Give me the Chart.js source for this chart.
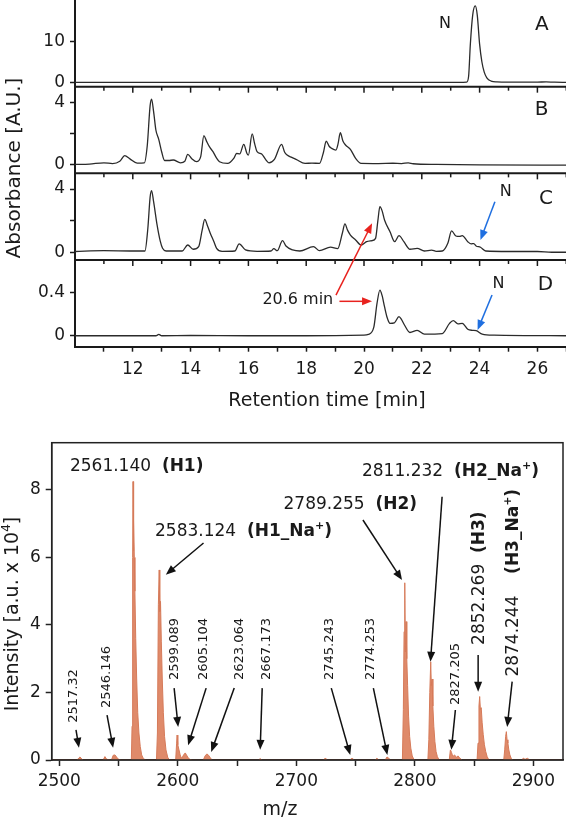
<!DOCTYPE html>
<html>
<head>
<meta charset="utf-8">
<script src="https://cdn.jsdelivr.net/npm/chart.js@4.4.0/dist/chart.umd.min.js"></script>
<style>
  html, body { margin: 0; padding: 0; background: #fff; overflow: hidden; }
  body { width: 566px; height: 820px; position: relative; }
  #hplc { position: absolute; left: 0; top: -20px; }
  #ms { position: absolute; left: 0; top: 410px; }
</style>
</head>
<body>
<canvas id="hplc" width="590" height="440"></canvas>
<canvas id="ms" width="566" height="410"></canvas>
<script>
// HPLC traces: retention time [min] and absorbance [A.U.]
const timeA = [10, 14, 18, 22, 23.3, 23.55, 23.62, 23.68, 23.76, 23.85, 23.92, 24.0, 24.08, 24.16, 24.25, 24.4, 24.6, 25.0, 26.0, 26.3, 26.6, 27];
const absA  = [0, 0, 0, 0, 0, 0.05, 1.5, 9.4, 16.5, 18.8, 16.5, 9.4, 5.0, 2.5, 1.1, 0.3, 0.1, 0.05, 0.05, 0.1, 0.02, 0];

const timeB = [10.0, 10.5, 11.0, 11.3, 11.55, 11.72, 11.9, 12.15, 12.4, 12.5, 12.6, 12.65, 12.72, 12.8, 12.9, 13.0, 13.1, 13.25, 13.4, 13.65,
               13.8, 13.9, 14.05, 14.2, 14.35, 14.46, 14.55, 14.65, 14.78, 14.9, 15.0, 15.28, 15.5, 15.59, 15.7, 15.84, 15.95, 16.0, 16.13, 16.22,
               16.3, 16.46, 16.6, 16.71, 16.9, 17.15, 17.25, 17.34, 17.5, 17.65, 17.96, 18.2, 18.46, 18.6, 18.69, 18.8, 18.88, 19.03, 19.1, 19.18,
               19.27, 19.36, 19.53, 19.71, 19.9, 20.5, 21.0, 21.3, 21.53, 21.7, 22.5, 24.0, 27.0];
const absB  = [0.0, 0.02, 0.1, 0.05, 0.2, 0.56, 0.35, 0.08, 0.1, 1.2, 3.8, 4.2, 3.4, 2.2, 1.6, 0.8, 0.25, 0.25, 0.28, 0.1,
               0.2, 0.65, 0.35, 0.17, 0.5, 1.85, 1.5, 1.14, 0.8, 0.4, 0.17, 0.06, 0.4, 0.7, 0.67, 1.29, 0.7, 0.6, 1.96, 1.3,
               0.82, 0.67, 0.3, 0.1, 0.32, 1.29, 0.8, 0.6, 0.45, 0.32, 0.06, 0.08, 0.06, 0.8, 1.5, 1.15, 1.03, 0.92, 1.3, 2.04,
               1.5, 1.25, 0.97, 0.39, 0.06, 0.05, 0.07, 0.05, 0.1, 0.04, 0.0, -0.03, -0.05];

const timeC = [10.0, 11.0, 12.0, 12.42, 12.52, 12.6, 12.65, 12.72, 12.84, 12.95, 13.03, 13.15, 13.71, 13.9, 14.09, 14.28, 14.4, 14.49, 14.58, 14.68,
               14.8, 14.9, 15.09, 15.53, 15.68, 15.9, 16.3, 16.78, 16.88, 17.0, 17.18, 17.3, 17.53, 17.78, 18.25, 18.46, 18.84, 19.09, 19.25, 19.34,
               19.43, 19.53, 19.71, 19.9, 20.09, 20.28, 20.4, 20.48, 20.55, 20.63, 20.71, 20.9, 21.06, 21.21, 21.38, 21.59, 21.84, 22.09, 22.34, 22.5,
               22.71, 22.9, 23.03, 23.18, 23.3, 23.4, 23.59, 23.71, 23.8, 23.88, 24.03, 24.21, 25.0, 26.0, 26.5, 27.0];
const absC  = [0.05, 0.1, 0.08, 0.08, 1.5, 3.5, 3.9, 3.2, 1.73, 0.7, 0.25, 0.08, 0.08, 0.46, 0.19, 0.36, 1.4, 2.08, 1.7, 1.2,
               0.7, 0.25, 0.06, 0.08, 0.53, 0.15, 0.06, 0.08, 0.23, 0.1, 0.74, 0.4, 0.15, 0.08, 0.36, 0.1, 0.32, 0.23, 1.2, 1.79,
               1.4, 1.09, 0.78, 0.46, 0.67, 0.74, 0.88, 2.0, 2.88, 2.6, 2.04, 1.3, 0.67, 1.05, 0.67, 0.19, 0.25, 0.08, 0.14, 0.06,
               0.08, 0.57, 1.35, 1.03, 1.0, 1.05, 0.67, 0.53, 0.55, 0.4, 0.32, 0.08, 0.05, 0.05, 0.0, 0.0];

const timeD = [10, 12.8, 12.9, 13.0, 14.0, 16.0, 18.0, 20.0, 20.15, 20.34, 20.45, 20.55, 20.63, 20.71, 20.8, 20.9, 21.05, 21.21, 21.3, 21.4,
               21.59, 21.84, 22.09, 22.71, 22.96, 23.09, 23.25, 23.4, 23.59, 23.75, 23.88, 24.09, 24.5, 27];
const absD  = [0, 0, 0.012, 0, 0.002, 0, 0, 0.005, 0.012, 0.08, 0.3, 0.425, 0.37, 0.27, 0.17, 0.115, 0.12, 0.177, 0.15, 0.1,
               0.03, 0.05, 0.015, 0.02, 0.115, 0.14, 0.11, 0.115, 0.06, 0.05, 0.047, 0.015, 0.005, 0.0];

const timeTicks  = [11, 12, 13, 14, 15, 16, 17, 18, 19, 20, 21, 22, 23, 24, 25, 26, 27];
const timeLabels = [12, 14, 16, 18, 20, 22, 24, 26];
const ticksA = [0, 10],  labelsA = [0, 10];
const ticksB = [0, 2, 4], labelsB = [0, 4];
const ticksC = [0, 2, 4], labelsC = [0, 4];
const ticksD = [0, 0.2, 0.4, 0.6], labelsD = [0, 0.4];

// MALDI spectrum: m/z and intensity [a.u. x 10^4]
const msMz = [2493.6, 2515, 2516.5, 2517.5, 2518.5, 2520, 2537, 2538.5, 2540, 2544, 2545.5, 2547, 2548.5, 2550, 2552,
              2560.8, 2561.4, 2561.9, 2562.2, 2562.5, 2562.9, 2563.3, 2563.8, 2564.5, 2565.3, 2566.2, 2567.2, 2568.3, 2569.5, 2571, 2573,
              2582, 2582.8, 2583.6, 2584.3, 2584.8, 2585.4, 2586.1, 2586.9, 2587.8, 2588.8, 2590, 2591.5, 2593,
              2598.2, 2599.0, 2599.4, 2600, 2601, 2602, 2603, 2604, 2605.5, 2606.3, 2607.3, 2608.5, 2610, 2612,
              2621.5, 2623, 2624.5, 2626, 2627.5, 2629, 2668, 2669.5, 2671, 2723, 2724.5, 2726, 2745, 2747, 2749,
              2766.5, 2768, 2769.5, 2775, 2776.5, 2778, 2779.5,
              2789.5, 2790.3, 2790.9, 2791.5, 2792.0, 2792.6, 2793.2, 2793.9, 2794.7, 2795.6, 2796.6, 2797.8, 2799, 2800.5,
              2811, 2811.8, 2812.6, 2813.4, 2813.9, 2814.5, 2815.2, 2816, 2816.9, 2817.9, 2819, 2820.5,
              2829, 2830, 2831, 2832, 2833.5, 2835, 2836.5, 2838, 2840,
              2852.5, 2853.3, 2854.1, 2854.7, 2855.3, 2856, 2856.8, 2857.7, 2858.7, 2859.8, 2861, 2862.5,
              2875, 2875.8, 2876.6, 2877.2, 2877.8, 2878.5, 2879.3, 2880.2, 2881.3, 2882.5,
              2890, 2891.5, 2893, 2895, 2897, 2925];
const msInt = [0, 0, 0.06, 0.09, 0.05, 0, 0, 0.1, 0.02, 0, 0.14, 0.15, 0.08, 0.02, 0,
               0, 1.0, 6.0, 8.25, 6.2, 7.1, 6.0, 5.0, 3.6, 2.4, 1.4, 0.8, 0.4, 0.15, 0.04, 0,
               0, 0.8, 4.6, 5.63, 4.4, 4.7, 3.5, 2.4, 1.4, 0.7, 0.3, 0.08, 0,
               0, 0.5, 0.74, 0.45, 0.3, 0.15, 0.05, 0.1, 0.18, 0.21, 0.15, 0.08, 0.02, 0,
               0, 0.12, 0.18, 0.14, 0.06, 0, 0, 0.04, 0, 0, 0.06, 0, 0, 0.05, 0,
               0, 0.05, 0, 0, 0.09, 0.05, 0,
               0, 1.5, 3.8, 5.25, 3.2, 4.1, 3.0, 2.2, 1.3, 0.7, 0.35, 0.12, 0.03, 0,
               0, 0.6, 2.0, 2.91, 2.2, 2.4, 1.6, 1.0, 0.55, 0.25, 0.1, 0,
               0, 0.3, 0.22, 0.1, 0.15, 0.08, 0.12, 0.05, 0,
               0, 0.5, 1.6, 1.88, 1.5, 1.55, 1.1, 0.75, 0.45, 0.25, 0.1, 0,
               0, 0.3, 0.7, 0.84, 0.6, 0.5, 0.3, 0.15, 0.05, 0,
               0, 0.05, 0.02, 0.05, 0, 0];

const msXTicks  = [2500, 2550, 2600, 2650, 2700, 2750, 2800, 2850, 2900];
const msXLabels = [2500, 2600, 2700, 2800, 2900];
const msYTicks  = [0, 2, 4, 6, 8];

const FONT = '"DejaVu Sans", sans-serif';
const INK = '#1a1a1a';
Chart.defaults.font.family = FONT;
Chart.defaults.color = INK;

const toXY = (xs, ys) => xs.map((x, i) => ({ x: x, y: ys[i] }));

function drawRich(ctx, parts, x, y, size, align, rotate) {
  // style: 0 normal, 1 bold, 2 bold superscript, 3 normal superscript
  const fontFor = st => ((st === 1 || st === 2) ? 'bold ' : '') + (st >= 2 ? Math.round(size * 0.65) : size) + 'px ' + FONT;
  ctx.save();
  ctx.translate(x, y);
  if (rotate) ctx.rotate(-Math.PI / 2);
  let total = 0;
  parts.forEach(([t, st]) => { ctx.font = fontFor(st); total += ctx.measureText(t).width; });
  let cx = align === 'center' ? -total / 2 : 0;
  ctx.textBaseline = 'middle';
  ctx.textAlign = 'left';
  ctx.fillStyle = INK;
  parts.forEach(([t, st]) => {
    ctx.font = fontFor(st);
    ctx.fillText(t, cx, st >= 2 ? -size * 0.33 : 0);
    cx += ctx.measureText(t).width;
  });
  ctx.restore();
}

function arrow(ctx, x1, y1, x2, y2, color, lw) {
  const a = Math.atan2(y2 - y1, x2 - x1);
  const hl = 10, hw = 4;
  ctx.save();
  ctx.strokeStyle = color;
  ctx.fillStyle = color;
  ctx.lineWidth = lw;
  ctx.beginPath();
  ctx.moveTo(x1, y1);
  ctx.lineTo(x2 - hl * 0.8 * Math.cos(a), y2 - hl * 0.8 * Math.sin(a));
  ctx.stroke();
  ctx.beginPath();
  ctx.moveTo(x2, y2);
  ctx.lineTo(x2 - hl * Math.cos(a) + hw * Math.sin(a), y2 - hl * Math.sin(a) - hw * Math.cos(a));
  ctx.lineTo(x2 - hl * Math.cos(a) - hw * Math.sin(a), y2 - hl * Math.sin(a) + hw * Math.cos(a));
  ctx.closePath();
  ctx.fill();
  ctx.restore();
}

// ---------- HPLC panels ----------
const hplcNotes = [
  { axis: 'yA', t: 22.8,  v: 14.5,  text: 'N', size: 16 },
  { axis: 'yA', t: 26.15, v: 14.1,  text: 'A', size: 20 },
  { axis: 'yB', t: 26.15, v: 3.5,   text: 'B', size: 20 },
  { axis: 'yC', t: 26.3,  v: 3.41,  text: 'C', size: 20 },
  { axis: 'yC', t: 24.9,  v: 3.83,  text: 'N', size: 16 },
  { axis: 'yD', t: 26.28, v: 0.47,  text: 'D', size: 20 },
  { axis: 'yD', t: 24.65, v: 0.487, text: 'N', size: 16 },
  { axis: 'yD', t: 17.71, v: 0.33,  text: '20.6 min', size: 16 }
];
const hplcArrows = [
  { from: ['yC', 24.53, 3.2],   to: ['yC', 24.03, 0.78],  color: '#1f6fe0' },
  { from: ['yD', 24.43, 0.378], to: ['yD', 23.93, 0.053], color: '#1f6fe0' },
  { from: ['yD', 19.03, 0.378], to: ['yC', 20.28, 1.83],  color: '#e8221e' },
  { from: ['yD', 19.15, 0.32],  to: ['yD', 20.28, 0.32],  color: '#e8221e' }
];

const hplcDecor = {
  id: 'hplcDecor',
  afterDraw(chart) {
    const { ctx, chartArea: ca, scales } = chart;
    const xs = scales.x;
    ctx.save();
    ctx.strokeStyle = INK;
    ctx.lineWidth = 2;
    ['yA', 'yB', 'yC'].forEach(id => {
      const b = scales[id].bottom;
      ctx.beginPath(); ctx.moveTo(ca.left, b); ctx.lineTo(ca.right, b); ctx.stroke();
    });
    ctx.lineWidth = 1.5;
    ['yB', 'yC', 'yD'].forEach(id => {
      const top = scales[id].top;
      timeTicks.forEach(t => {
        const px = xs.getPixelForValue(t);
        const len = timeLabels.includes(t) ? 6 : 4;
        ctx.beginPath(); ctx.moveTo(px, top); ctx.lineTo(px, top + len); ctx.stroke();
      });
    });
    ctx.restore();

    hplcNotes.forEach(n => {
      drawRich(ctx, [[n.text, 0]], xs.getPixelForValue(n.t), scales[n.axis].getPixelForValue(n.v), n.size, 'center', false);
    });
    hplcArrows.forEach(a => {
      arrow(ctx,
        xs.getPixelForValue(a.from[1]), scales[a.from[0]].getPixelForValue(a.from[2]),
        xs.getPixelForValue(a.to[1]), scales[a.to[0]].getPixelForValue(a.to[2]),
        a.color, 1.5);
    });

    drawRich(ctx, [['Absorbance [A.U.]', 0]], 15, ca.top + 168, 20, 'center', true);
    drawRich(ctx, [['Retention time [min]', 0]], 327, ca.bottom + 54, 19, 'center', false);
  }
};

function panelAxis(min, max, ticks, labels) {
  return {
    type: 'linear', position: 'left', stack: 'hplc', stackWeight: 1,
    min: min, max: max,
    afterBuildTicks: s => { s.ticks = ticks.map(v => ({ value: v })); },
    afterFit: s => { s.width = 75; },
    ticks: { font: { size: 17 }, padding: 5, color: INK,
             callback: v => labels.includes(v) ? String(v) : '' },
    grid: { drawOnChartArea: false, tickLength: 5, tickWidth: 1.5, tickColor: INK },
    border: { color: INK, width: 2 }
  };
}

const trace = (xs, ys, axis) => ({
  data: toXY(xs, ys), yAxisID: axis, borderColor: '#2b2b2b', borderWidth: 1.3,
  pointRadius: 0, fill: false, cubicInterpolationMode: 'monotone'
});

new Chart(document.getElementById('hplc'), {
  type: 'line',
  data: {
    datasets: [
      trace(timeA, absA, 'yA'),
      trace(timeB, absB, 'yB'),
      trace(timeC, absC, 'yC'),
      trace(timeD, absD, 'yD')
    ]
  },
  options: {
    responsive: false,
    animation: false,
    layout: { padding: { top: 20, right: 23.7, left: 0, bottom: 0 } },
    plugins: { legend: { display: false }, tooltip: { enabled: false } },
    scales: {
      x: {
        type: 'linear', position: 'bottom', min: 10, max: 27,
        afterBuildTicks: s => { s.ticks = timeTicks.map(v => ({ value: v })); },
        afterFit: s => { s.height = 73.3; },
        ticks: { font: { size: 17 }, padding: 8, autoSkip: false, maxRotation: 0, color: INK,
                 callback: v => timeLabels.includes(v) ? String(v) : '' },
        grid: { drawOnChartArea: false, tickLength: 5, tickWidth: 1.5, tickColor: INK },
        border: { color: INK, width: 2 }
      },
      yD: panelAxis(-0.102, 0.704, ticksD, labelsD),
      yC: panelAxis(-0.49, 4.99, ticksC, labelsC),
      yB: panelAxis(-0.58, 5.01, ticksB, labelsB),
      yA: panelAxis(-1.08, 20.27, ticksA, labelsA)
    }
  },
  plugins: [hplcDecor]
});

// ---------- Mass spectrum ----------
const msBigLabels = [
  { parts: [['2561.140  ', 0], ['(H1)', 1]], mz: 2509, inten: 8.69, rot: false },
  { parts: [['2583.124  ', 0], ['(H1_Na', 1], ['+', 2], [')', 1]], mz: 2580.8, inten: 6.76, rot: false },
  { parts: [['2789.255  ', 0], ['(H2)', 1]], mz: 2689.2, inten: 7.56, rot: false },
  { parts: [['2811.232  ', 0], ['(H2_Na', 1], ['+', 2], [')', 1]], mz: 2755.4, inten: 8.54, rot: false },
  { parts: [['2852.269  ', 0], ['(H3)', 1]], mz: 2855, inten: 3.41, rot: true },
  { parts: [['2874.244    ', 0], ['(H3_Na', 1], ['+', 2], [')', 1]], mz: 2883.2, inten: 2.47, rot: true }
];
const msBigArrows = [
  [2621.7, 6.43, 2589.9, 5.49],
  [2756.2, 7.11, 2789.2, 5.33],
  [2823.0, 7.8, 2813.2, 2.91],
  [2853.4, 3.11, 2853.4, 2.02],
  [2882.1, 2.32, 2877.9, 0.98]
];
const msSmallLabels = [
  { text: '2517.32',  mz: 2512.4, inten: 1.10, arrow: [2514.1, 0.89, 2516.6, 0.36] },
  { text: '2546.146', mz: 2540.3, inten: 1.54, arrow: [2540.3, 1.33, 2545.4, 0.36] },
  { text: '2599.089', mz: 2597.7, inten: 2.37, arrow: [2596.9, 2.13, 2600.3, 0.98] },
  { text: '2605.104', mz: 2622.2, inten: 2.37, arrow: [2623.9, 2.13, 2608.7, 0.44] },
  { text: '2623.064', mz: 2651.8, inten: 2.37, arrow: [2647.6, 2.13, 2628.2, 0.24] },
  { text: '2667.173', mz: 2674.6, inten: 2.37, arrow: [2671.2, 2.13, 2669.5, 0.30] },
  { text: '2745.243', mz: 2727.8, inten: 2.37, arrow: [2729.5, 2.13, 2745.5, 0.15] },
  { text: '2774.253', mz: 2762.4, inten: 2.37, arrow: [2765.0, 2.13, 2776.8, 0.15] },
  { text: '2827.205', mz: 2834.2, inten: 1.63, arrow: [2834.2, 1.48, 2830.8, 0.30] }
];

const msDecor = {
  id: 'msDecor',
  afterDraw(chart) {
    const { ctx, chartArea: ca, scales: { x, y } } = chart;
    ctx.save();
    ctx.strokeStyle = '#222';
    ctx.lineWidth = 1.5;
    ctx.strokeRect(ca.left, ca.top, ca.right - ca.left, ca.bottom - ca.top);
    ctx.restore();

    msBigLabels.forEach(l => {
      drawRich(ctx, l.parts, x.getPixelForValue(l.mz), y.getPixelForValue(l.inten), 17, 'left', l.rot);
    });
    msBigArrows.forEach(a => {
      arrow(ctx, x.getPixelForValue(a[0]), y.getPixelForValue(a[1]), x.getPixelForValue(a[2]), y.getPixelForValue(a[3]), '#111', 1.5);
    });
    msSmallLabels.forEach(l => {
      drawRich(ctx, [[l.text, 0]], x.getPixelForValue(l.mz), y.getPixelForValue(l.inten), 13, 'left', true);
      const a = l.arrow;
      arrow(ctx, x.getPixelForValue(a[0]), y.getPixelForValue(a[1]), x.getPixelForValue(a[2]), y.getPixelForValue(a[3]), '#111', 1.5);
    });

    drawRich(ctx, [['Intensity [a.u. x 10', 0], ['4', 3], [']', 0]], 13, 204, 19, 'center', true);
    drawRich(ctx, [['m/z', 0]], 280, 400, 19, 'center', false);
  }
};

new Chart(document.getElementById('ms'), {
  type: 'line',
  data: {
    datasets: [{
      data: toXY(msMz, msInt),
      borderColor: '#d67b5a',
      backgroundColor: '#df8a6a',
      borderWidth: 1,
      pointRadius: 0,
      fill: 'origin',
      tension: 0
    }]
  },
  options: {
    responsive: false,
    animation: false,
    layout: { padding: { top: 32.7, right: 3, left: 0, bottom: 0 } },
    plugins: { legend: { display: false }, tooltip: { enabled: false } },
    scales: {
      x: {
        type: 'linear', min: 2493.6, max: 2925,
        afterBuildTicks: s => { s.ticks = msXTicks.map(v => ({ value: v })); },
        afterFit: s => { s.height = 60; },
        ticks: { font: { size: 17 }, padding: 5, autoSkip: false, maxRotation: 0, color: INK,
                 callback: v => msXLabels.includes(v) ? String(v) : '' },
        grid: { drawOnChartArea: false, tickLength: 6, tickWidth: 1.5, tickColor: '#222' },
        border: { color: '#222', width: 1.5 }
      },
      y: {
        type: 'linear', min: 0, max: 9.4,
        afterBuildTicks: s => { s.ticks = msYTicks.map(v => ({ value: v })); },
        afterFit: s => { s.width = 51.7; },
        ticks: { font: { size: 17 }, padding: 5, color: INK, callback: v => String(v) },
        grid: { drawOnChartArea: false, tickLength: 6, tickWidth: 1.5, tickColor: '#222' },
        border: { color: '#222', width: 1.5 }
      }
    }
  },
  plugins: [msDecor]
});
</script>
</body>
</html>
